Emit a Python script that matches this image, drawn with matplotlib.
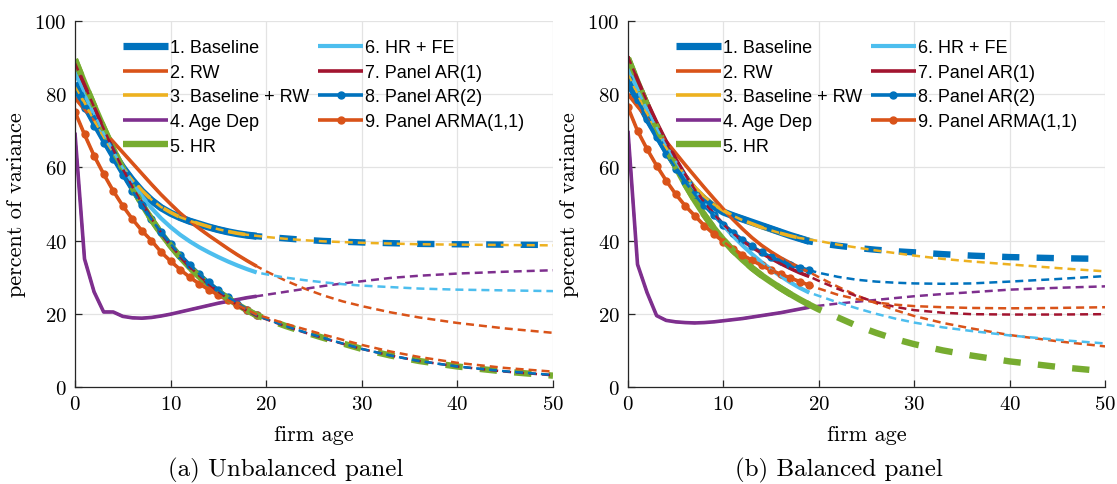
import numpy as np
import matplotlib
matplotlib.use("Agg")
import matplotlib.pyplot as plt

plt.rcParams['axes.formatter.use_mathtext'] = True

# ages: estimated sample (solid) and extrapolation knots (dashed)
ages = list(range(20))
ext_ages = [19, 20, 22, 24, 26, 28, 30, 33, 36, 40, 45, 50]

labels = ["1. Baseline", "2. RW", "3. Baseline + RW", "4. Age Dep", "5. HR",
          "6. HR + FE", "7. Panel AR(1)", "8. Panel AR(2)", "9. Panel ARMA(1,1)"]

# ---- unbalanced panel ----
base_u = [83, 78, 73, 68.5, 64, 60, 56.5, 53.5, 51, 49, 47.5, 46.3, 45.3, 44.5, 43.7, 43, 42.4, 41.9, 41.5, 41.2]
base_u_ext = [41.2, 41.0, 40.6, 40.2, 39.9, 39.7, 39.5, 39.3, 39.1, 39.0, 38.9, 38.8]
rw_u = [79, 75.8, 72.8, 69.9, 67.0, 64.1, 61.2, 58.3, 55.4, 52.6, 50.0, 47.5, 45.3, 43.3, 41.4, 39.6, 37.8, 36.1, 34.5, 33.0]
rw_u_ext = [33.0, 31.6, 29.1, 26.9, 25.0, 23.4, 22.1, 20.4, 19.0, 17.5, 16.0, 14.8]
brw_u = [82, 77.5, 72.8, 68.3, 64, 60, 56.6, 53.7, 51.2, 49.2, 47.7, 46.4, 45.4, 44.6, 43.8, 43.1, 42.5, 42.0, 41.6, 41.3]
brw_u_ext = [41.3, 41.0, 40.5, 40.1, 39.8, 39.6, 39.4, 39.2, 39.0, 38.9, 38.8, 38.7]
age_u = [69.5, 35, 26, 20.5, 20.5, 19.3, 18.9, 18.8, 19.0, 19.4, 19.9, 20.5, 21.1, 21.7, 22.3, 22.9, 23.4, 23.9, 24.4, 24.8]
age_u_ext = [24.8, 25.2, 26.0, 26.8, 27.6, 28.3, 28.9, 29.8, 30.4, 31.0, 31.5, 31.9]
hr_u = [89.5, 83.0, 76.8, 70.8, 65.0, 59.6, 54.6, 50.0, 45.8, 42.0, 38.6, 35.5, 32.7, 30.2, 28.0, 26.0, 24.2, 22.5, 21.0, 19.6]
hr_u_ext = [19.6, 18.6, 16.7, 15.0, 13.4, 11.9, 10.4, 8.6, 7.1, 5.6, 4.2, 3.1]
fe_u = [86, 80.2, 74.6, 69.3, 64.4, 59.9, 55.8, 52.1, 48.9, 46.1, 43.7, 41.6, 39.8, 38.2, 36.8, 35.5, 34.3, 33.2, 32.2, 31.3]
fe_u_ext = [31.3, 30.8, 29.9, 29.2, 28.6, 28.1, 27.7, 27.3, 26.9, 26.6, 26.4, 26.2]
ar1_u = [88.5, 82.5, 76.5, 70.6, 64.9, 59.6, 54.7, 50.2, 46.0, 42.2, 38.8, 35.7, 32.9, 30.4, 28.1, 26.0, 24.1, 22.4, 20.8, 19.4]
ar1_u_ext = [19.4, 18.5, 16.6, 14.9, 13.3, 11.8, 10.4, 8.6, 7.1, 5.6, 4.2, 3.2]
ar2_u = [81, 76.2, 71.4, 66.8, 62.3, 57.9, 53.6, 49.6, 45.8, 42.3, 39.1, 36.1, 33.4, 30.9, 28.6, 26.5, 24.6, 22.8, 21.1, 19.6]
ar2_u_ext = [19.6, 18.6, 16.7, 15.0, 13.4, 11.9, 10.4, 8.6, 7.1, 5.6, 4.3, 3.3]
arma_u = [75.2, 69.0, 63.2, 58.2, 53.6, 49.5, 45.9, 42.7, 40.0, 36.9, 34.4, 32.1, 30.0, 28.2, 26.6, 25.1, 23.7, 22.4, 21.1, 19.8]
arma_u_ext = [19.8, 19.0, 17.3, 15.8, 14.3, 12.9, 11.5, 9.7, 8.2, 6.6, 5.2, 4.2]

# ---- balanced panel ----
base_b = [83.5, 78.5, 73.5, 69.0, 64.6, 60.6, 57.0, 53.8, 51.3, 49.3, 47.8, 46.8, 45.9, 45.0, 44.1, 43.2, 42.3, 41.4, 40.6, 39.8]
base_b_ext = [39.8, 39.3, 38.6, 38.0, 37.5, 37.1, 36.8, 36.3, 35.9, 35.5, 35.2, 35.0]
rw_b = [80, 76.7, 73.5, 70.3, 67.1, 63.9, 60.7, 57.6, 54.5, 51.5, 48.6, 45.8, 43.2, 40.8, 38.7, 36.9, 35.3, 33.9, 32.6, 31.4]
rw_b_ext = [31.4, 30.0, 27.4, 25.0, 22.9, 21.0, 19.4, 17.5, 16.0, 14.2, 12.5, 11.1]
brw_b = [85.5, 80, 74.7, 69.8, 65.4, 61.4, 57.8, 54.6, 52.0, 49.9, 48.2, 46.8, 45.6, 44.6, 43.6, 42.8, 42.0, 41.3, 40.7, 40.3]
brw_b_ext = [40.3, 39.9, 38.9, 38.1, 37.3, 36.6, 35.9, 35.0, 34.3, 33.5, 32.5, 31.6]
age_b = [70, 33.5, 25.8, 19.5, 18.2, 17.8, 17.6, 17.5, 17.6, 17.8, 18.1, 18.4, 18.7, 19.1, 19.5, 19.9, 20.3, 20.8, 21.3, 21.8]
age_b_ext = [21.8, 22.2, 22.8, 23.3, 23.8, 24.3, 24.8, 25.4, 25.9, 26.6, 27.1, 27.5]
hr_b = [89.8, 83.3, 77.0, 71.0, 65.4, 60.2, 55.4, 51.0, 47.0, 43.4, 40.2, 37.3, 34.8, 32.5, 30.5, 28.7, 27.0, 25.4, 23.9, 22.5]
hr_b_ext = [22.5, 21.2, 19.0, 16.7, 14.8, 13.1, 11.7, 10.0, 8.6, 7.0, 5.5, 4.3]
fe_b = [87, 81.2, 75.8, 70.8, 66.1, 61.7, 57.6, 53.8, 50.3, 47.1, 44.1, 41.3, 38.7, 36.3, 34.1, 32.1, 30.3, 28.6, 27.1, 25.8]
fe_b_ext = [25.8, 24.9, 23.1, 21.5, 20.0, 18.7, 17.6, 16.3, 15.3, 14.1, 12.9, 11.9]
ar1_b = [90.3, 84.0, 78.0, 72.4, 67.2, 62.4, 58.0, 54.0, 50.4, 47.2, 44.4, 42.0, 40.0, 38.2, 36.6, 35.1, 33.7, 32.4, 31.2, 30.2]
ar1_b_ext = [30.2, 29.0, 26.8, 24.8, 23.2, 21.9, 21.0, 20.3, 19.9, 19.8, 19.8, 19.9]
ar2_b = [84.2, 78.5, 73.2, 68.3, 63.8, 59.7, 56.0, 52.6, 49.6, 46.9, 44.4, 42.2, 40.2, 38.4, 36.8, 35.5, 34.4, 33.4, 32.6, 31.9]
ar2_b_ext = [31.9, 31.2, 30.1, 29.3, 28.8, 28.5, 28.3, 28.2, 28.3, 28.8, 29.5, 30.3]
arma_b = [76.4, 70.0, 65.0, 60.5, 56.4, 52.7, 49.5, 46.8, 44.1, 41.8, 39.7, 37.8, 36.1, 34.6, 33.2, 31.9, 30.8, 29.8, 28.8, 27.8]
arma_b_ext = [27.8, 26.9, 25.2, 24.0, 23.1, 22.5, 22.1, 21.8, 21.6, 21.5, 21.6, 21.8]

unbalanced = [(base_u, base_u_ext), (rw_u, rw_u_ext), (brw_u, brw_u_ext), (age_u, age_u_ext),
              (hr_u, hr_u_ext), (fe_u, fe_u_ext), (ar1_u, ar1_u_ext), (ar2_u, ar2_u_ext),
              (arma_u, arma_u_ext)]
balanced = [(base_b, base_b_ext), (rw_b, rw_b_ext), (brw_b, brw_b_ext), (age_b, age_b_ext),
            (hr_b, hr_b_ext), (fe_b, fe_b_ext), (ar1_b, ar1_b_ext), (ar2_b, ar2_b_ext),
            (arma_b, arma_b_ext)]

# matlab default colour order
colors = ["#0072BD", "#D95319", "#EDB120", "#7E2F8E", "#77AC30",
          "#4DBEEE", "#A2142F", "#0072BD", "#D95319"]
solid_lw = [5.2, 2.6, 2.6, 2.6, 4.6, 3.0, 2.6, 2.6, 2.6]
markers = [None] * 7 + ["o", "o"]
thick = [True, False, False, False, True, False, False, False, False]

tick_font = "cmr10"


def draw_panel(ax, series):
    handles = []
    for i, (solid, ext) in enumerate(series):
        h, = ax.plot(ages, solid, color=colors[i], lw=solid_lw[i], marker=markers[i],
                     markersize=5, solid_capstyle="butt", label=labels[i])
        handles.append(h)
    # extrapolated paths, dashed over the whole age range
    for i, (solid, ext) in enumerate(series):
        xs = ages[:-1] + ext_ages
        ys = solid[:-1] + ext
        if thick[i]:
            ax.plot(xs, ys, color=colors[i], lw=4.6, dashes=(2.7, 2.7))
        else:
            ax.plot(xs, ys, color=colors[i], lw=1.8, dashes=(3.2, 2.0))

    ax.set_xlim(0, 50)
    ax.set_ylim(0, 100)
    ax.set_xticks(np.arange(0, 51, 10))
    ax.set_yticks(np.arange(0, 101, 20))
    ax.grid(True, color="#e3e3e3", lw=0.9)
    ax.set_axisbelow(True)
    for s in ["top", "right"]:
        ax.spines[s].set_visible(False)
    for s in ["left", "bottom"]:
        ax.spines[s].set_color("#262626")
        ax.spines[s].set_linewidth(0.9)
    ax.tick_params(direction="in", length=5, width=0.9, color="#262626",
                   labelsize=15, pad=6)
    for lab in ax.get_xticklabels() + ax.get_yticklabels():
        lab.set_fontfamily(tick_font)
    ax.set_xlabel("firm age", fontsize=16, fontfamily=tick_font, labelpad=8)
    ax.set_ylabel("percent of variance", fontsize=16, fontfamily=tick_font, labelpad=6)

    ax.legend(handles=handles, ncol=2, loc="upper left", bbox_to_anchor=(0.1, 0.95),
              frameon=False, prop={"family": "Liberation Sans", "size": 13},
              handlelength=2.5, handletextpad=0.1, columnspacing=0.5,
              labelspacing=0.42, borderpad=0, borderaxespad=0)


fig = plt.figure(figsize=(11.17, 4.85), dpi=100)
ax1 = fig.add_axes([0.0671, 0.2, 0.428, 0.7546])
ax2 = fig.add_axes([0.5622, 0.2, 0.4271, 0.7546])

draw_panel(ax1, unbalanced)
draw_panel(ax2, balanced)

fig.text(0.256, 0.018, "(a) Unbalanced panel", fontsize=18, fontfamily=tick_font, ha="center")
fig.text(0.751, 0.018, "(b) Balanced panel", fontsize=18, fontfamily=tick_font, ha="center")

fig.savefig("out.png", dpi=100)
